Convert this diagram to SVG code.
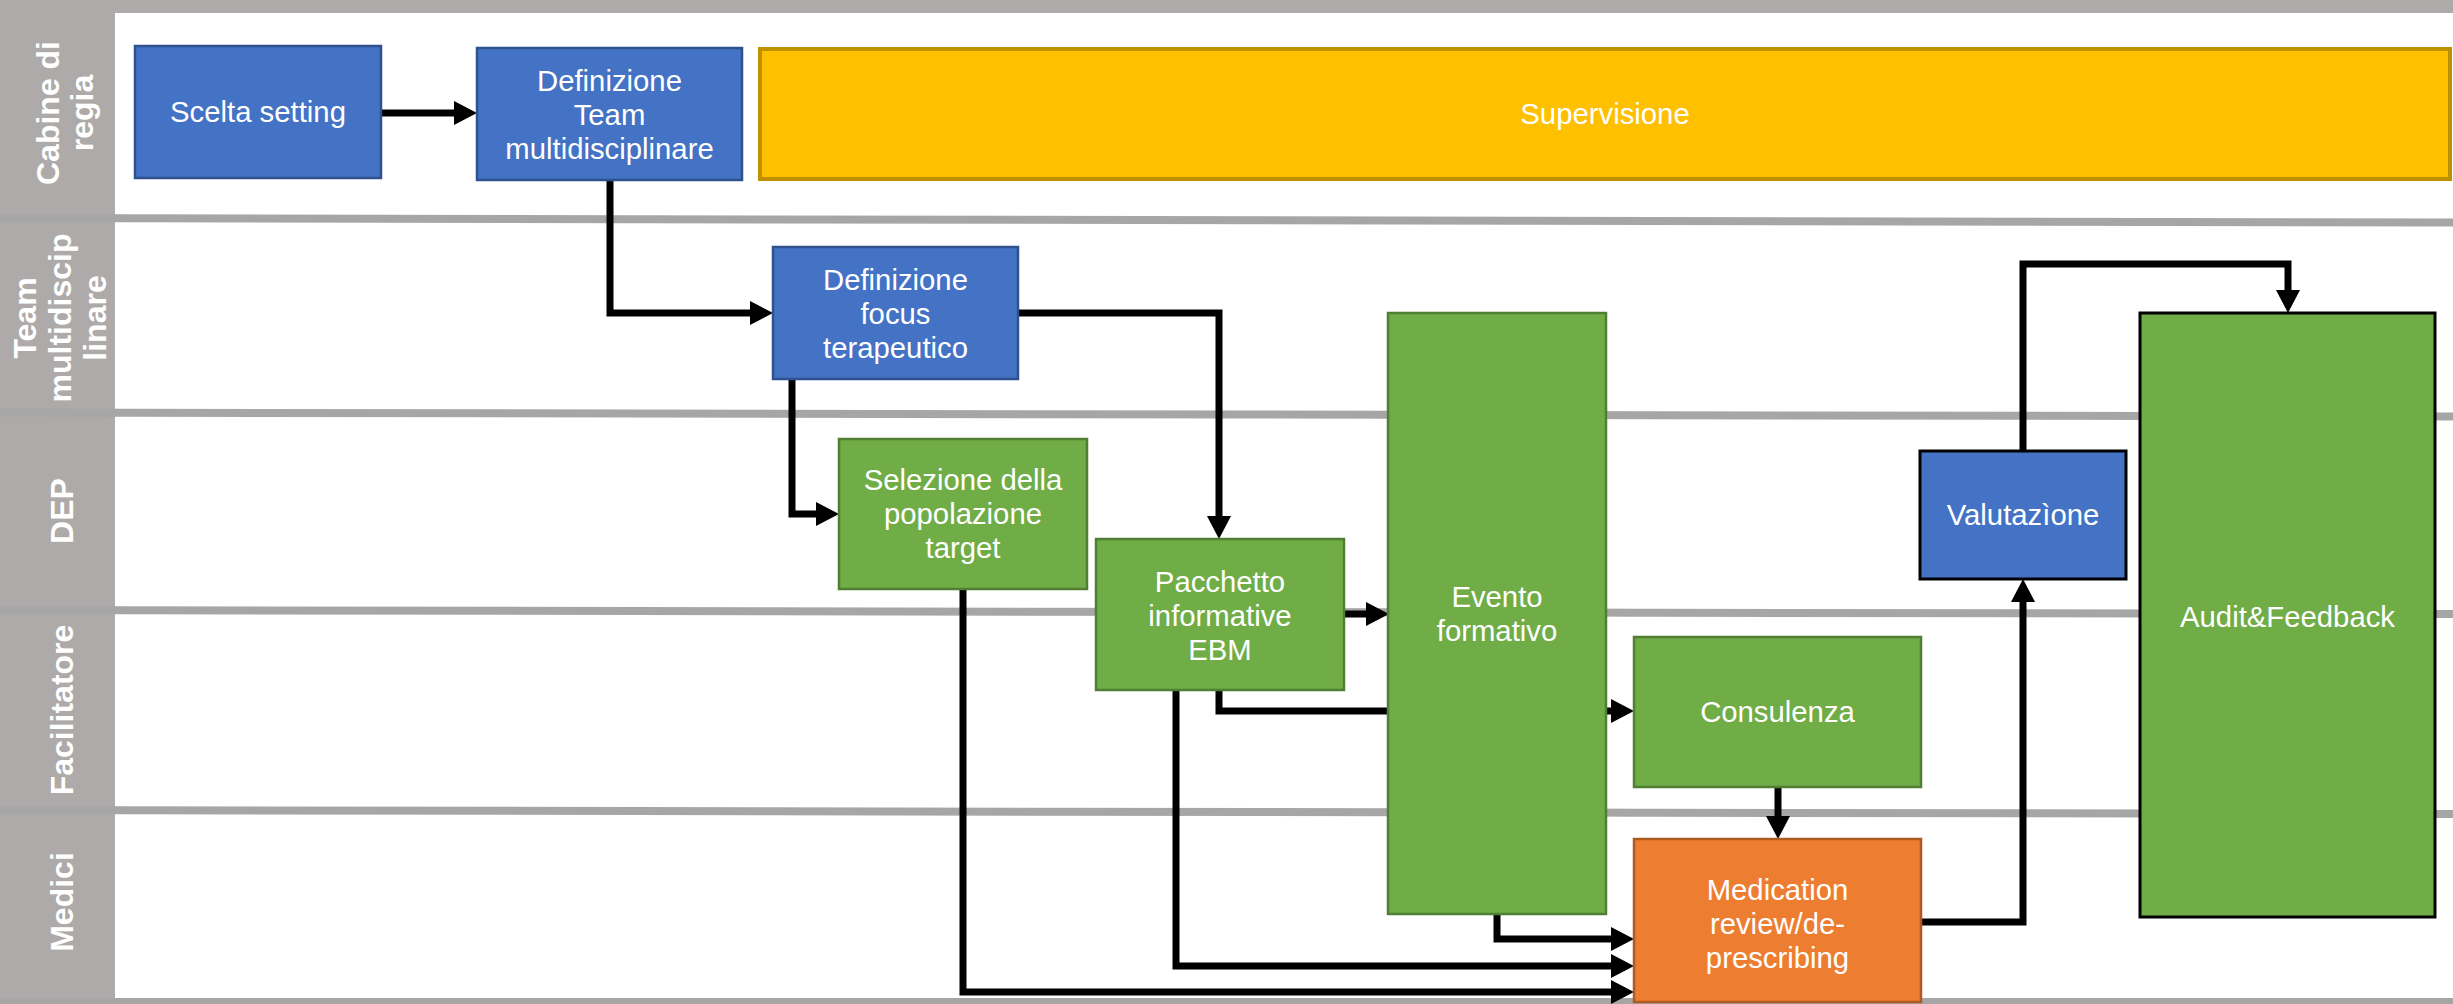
<svg xmlns="http://www.w3.org/2000/svg" width="2453" height="1004" viewBox="0 0 2453 1004">
<defs>
<style>
.lanebg{fill:#AEAAAA}
.sep{stroke:#A6A6A6;stroke-width:8;fill:none}
.lanelbl{font-family:"Liberation Sans",Arial,sans-serif;font-weight:bold;font-size:32px;fill:#FFFFFF;text-anchor:middle}
.lbl{font-family:"Liberation Sans",Arial,sans-serif;font-size:29.3px;fill:#FFFFFF;text-anchor:middle}
.blue{fill:#4472C4;stroke:#2F528F;stroke-width:2.5}
.blueb{fill:#4472C4;stroke:#000000;stroke-width:3}
.green{fill:#70AD47;stroke:#507E32;stroke-width:2.5}
.greenb{fill:#70AD47;stroke:#000000;stroke-width:3}
.orange{fill:#ED7D31;stroke:#AE5A21;stroke-width:2.5}
.yellow{fill:#FFC000;stroke:#BF9000;stroke-width:4}
.conn{fill:none;stroke:#000000;stroke-width:7;stroke-linejoin:miter;marker-end:url(#arrow)}
</style>
<marker id="arrow" markerUnits="userSpaceOnUse" viewBox="0 0 23 24" markerWidth="23" markerHeight="24" refX="0" refY="12" orient="auto">
<path d="M0,0 L23,12 L0,24 Z" fill="#000000"/>
</marker>
</defs>
<rect x="0" y="0" width="2453" height="1004" fill="#FFFFFF"/>
<g id="lanes">
<rect class="lanebg" x="0" y="0" width="2453" height="13"/>
<rect class="lanebg" x="0" y="0" width="115" height="1004"/>
<line class="sep" x1="0" y1="218" x2="2453" y2="222.5"/>
<line class="sep" x1="0" y1="412.5" x2="2453" y2="416.5"/>
<line class="sep" x1="0" y1="610" x2="2453" y2="614"/>
<line class="sep" x1="0" y1="810" x2="2453" y2="814"/>
<line class="sep" x1="0" y1="1002" x2="2453" y2="1002"/>
<text class="lanelbl" transform="translate(59,113) rotate(-90)">Cabine di</text>
<text class="lanelbl" transform="translate(93,113) rotate(-90)">regia</text>
<text class="lanelbl" transform="translate(36,318) rotate(-90)">Team</text>
<text class="lanelbl" transform="translate(71,318) rotate(-90)">multidiscip</text>
<text class="lanelbl" transform="translate(106,318) rotate(-90)">linare</text>
<text class="lanelbl" transform="translate(73,511) rotate(-90)">DEP</text>
<text class="lanelbl" transform="translate(73,710) rotate(-90)">Facilitatore</text>
<text class="lanelbl" transform="translate(73,902) rotate(-90)">Medici</text>
</g>
<g id="connectors">
<path class="conn" d="M381,113 H454"/>
<path class="conn" d="M610,180 V313 H750"/>
<path class="conn" d="M1018,313 H1219 V516"/>
<path class="conn" d="M792,379 V514 H816"/>
<path class="conn" d="M1344,614 H1366"/>
<path class="conn" d="M1219,690 V711 H1611"/>
<path class="conn" d="M1497,914 V939 H1611"/>
<path class="conn" d="M1176,690 V966 H1611"/>
<path class="conn" d="M963,589 V992 H1611"/>
<path class="conn" d="M1778,787 V816"/>
<path class="conn" d="M1921,922 H2023 V602"/>
<path class="conn" d="M2023,451 V264 H2288 V290"/>
</g>
<g id="scelta">
<rect class="blue" x="135" y="46" width="246" height="132"/>
<text class="lbl" x="258" y="122">Scelta setting</text>
</g>
<g id="defteam">
<rect class="blue" x="477" y="48" width="265" height="132"/>
<text class="lbl" x="609.5" y="91">Definizione</text>
<text class="lbl" x="609.5" y="125">Team</text>
<text class="lbl" x="609.5" y="159">multidisciplinare</text>
</g>
<g id="supervisione">
<rect class="yellow" x="760" y="49" width="1690" height="130"/>
<text class="lbl" x="1605" y="124">Supervisione</text>
</g>
<g id="focus">
<rect class="blue" x="773" y="247" width="245" height="132"/>
<text class="lbl" x="895.5" y="290">Definizione</text>
<text class="lbl" x="895.5" y="324">focus</text>
<text class="lbl" x="895.5" y="358">terapeutico</text>
</g>
<g id="selezione">
<rect class="green" x="839" y="439" width="248" height="150"/>
<text class="lbl" x="963" y="490">Selezione della</text>
<text class="lbl" x="963" y="524">popolazione</text>
<text class="lbl" x="963" y="558">target</text>
</g>
<g id="pacchetto">
<rect class="green" x="1096" y="539" width="248" height="151"/>
<text class="lbl" x="1220" y="592">Pacchetto</text>
<text class="lbl" x="1220" y="626">informative</text>
<text class="lbl" x="1220" y="660">EBM</text>
</g>
<g id="evento">
<rect class="green" x="1388" y="313" width="218" height="601"/>
<text class="lbl" x="1497" y="607">Evento</text>
<text class="lbl" x="1497" y="641">formativo</text>
</g>
<g id="consulenza">
<rect class="green" x="1634" y="637" width="287" height="150"/>
<text class="lbl" x="1777.5" y="722">Consulenza</text>
</g>
<g id="medication">
<rect class="orange" x="1634" y="839" width="287" height="163"/>
<text class="lbl" x="1777.5" y="900">Medication</text>
<text class="lbl" x="1777.5" y="934">review/de-</text>
<text class="lbl" x="1777.5" y="968">prescribing</text>
</g>
<g id="valutazione">
<rect class="blueb" x="1920" y="451" width="206" height="128"/>
<text class="lbl" x="2023" y="525">Valutazìone</text>
</g>
<g id="audit">
<rect class="greenb" x="2140" y="313" width="295" height="604"/>
<text class="lbl" x="2287.5" y="627">Audit&amp;Feedback</text>
</g>
</svg>
